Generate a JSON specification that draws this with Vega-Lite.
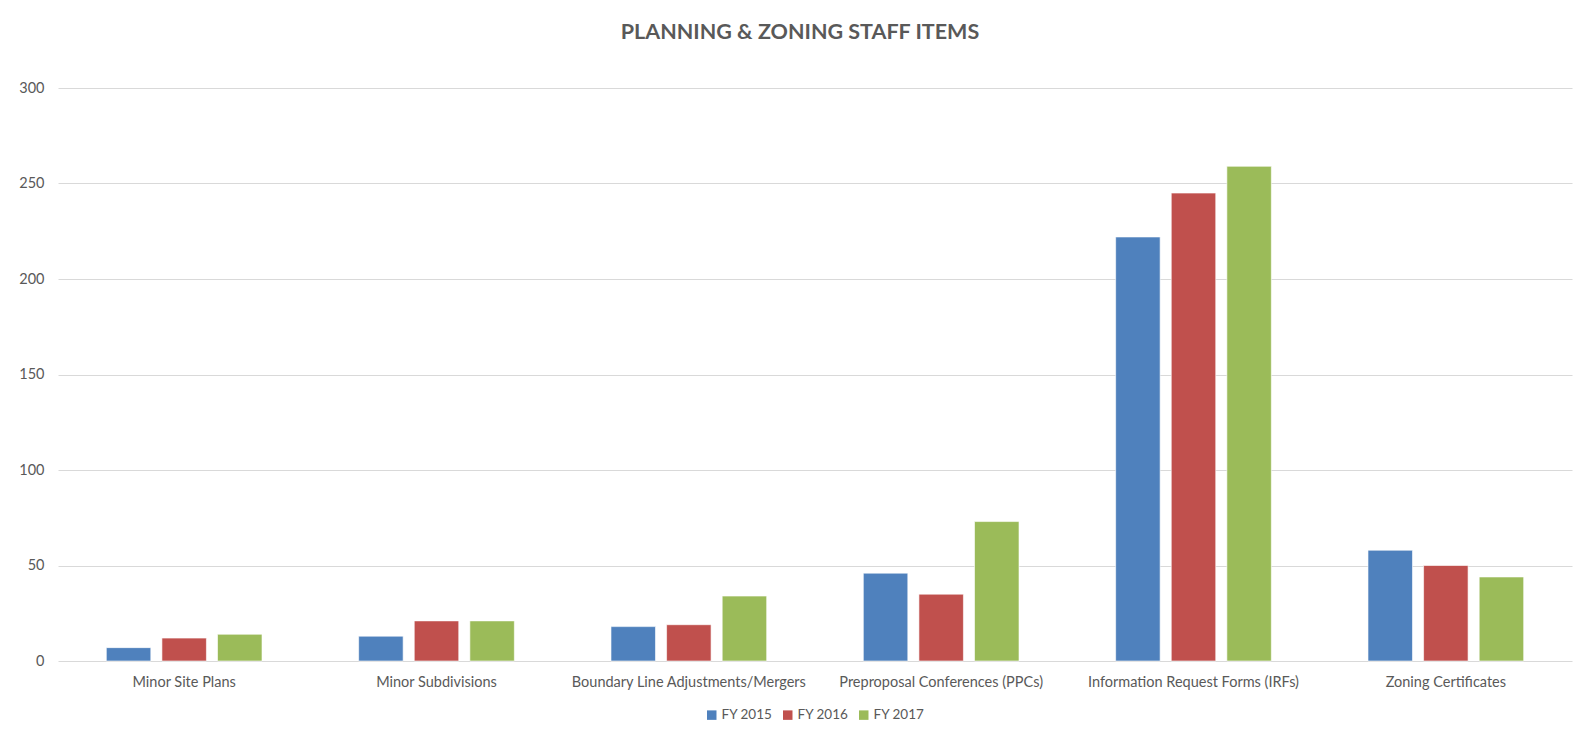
{
  "$schema": "https://vega.github.io/schema/vega-lite/v6.json",
  "autosize": "none",
  "width": 1514,
  "height": 573,
  "padding": {"left": 58, "top": 88, "right": 13, "bottom": 78},
  "background": "white",
  "title": {
    "text": "PLANNING & ZONING STAFF ITEMS",
    "font": "Lato",
    "fontSize": 21.5,
    "fontWeight": "bold",
    "color": "#595959",
    "anchor": "middle",
    "offset": 37,
    "dx": -15
  },
  "data": {
    "values": [
      {"category": "Minor Site Plans", "year": "FY 2015", "value": 7},
      {"category": "Minor Site Plans", "year": "FY 2016", "value": 12},
      {"category": "Minor Site Plans", "year": "FY 2017", "value": 14},
      {"category": "Minor Subdivisions", "year": "FY 2015", "value": 13},
      {"category": "Minor Subdivisions", "year": "FY 2016", "value": 21},
      {"category": "Minor Subdivisions", "year": "FY 2017", "value": 21},
      {"category": "Boundary Line Adjustments/Mergers", "year": "FY 2015", "value": 18},
      {"category": "Boundary Line Adjustments/Mergers", "year": "FY 2016", "value": 19},
      {"category": "Boundary Line Adjustments/Mergers", "year": "FY 2017", "value": 34},
      {"category": "Preproposal Conferences (PPCs)", "year": "FY 2015", "value": 46},
      {"category": "Preproposal Conferences (PPCs)", "year": "FY 2016", "value": 35},
      {"category": "Preproposal Conferences (PPCs)", "year": "FY 2017", "value": 73},
      {"category": "Information Request Forms (IRFs)", "year": "FY 2015", "value": 222},
      {"category": "Information Request Forms (IRFs)", "year": "FY 2016", "value": 245},
      {"category": "Information Request Forms (IRFs)", "year": "FY 2017", "value": 259},
      {"category": "Zoning Certificates", "year": "FY 2015", "value": 58},
      {"category": "Zoning Certificates", "year": "FY 2016", "value": 50},
      {"category": "Zoning Certificates", "year": "FY 2017", "value": 44}
    ]
  },
  "mark": {"type": "bar", "stroke": "white", "strokeWidth": 1, "strokeOpacity": 0.6},
  "encoding": {
    "x": {
      "field": "category",
      "type": "nominal",
      "sort": null,
      "title": null,
      "scale": {"paddingInner": 0.383, "paddingOuter": 0.1915},
      "axis": {
        "labelAngle": 0,
        "labelFont": "Lato",
        "labelFontSize": 14.5,
        "labelColor": "#595959",
        "labelPadding": 14,
        "labelLimit": 400,
        "ticks": false,
        "domain": false,
        "grid": false
      }
    },
    "xOffset": {
      "field": "year",
      "type": "nominal",
      "scale": {"paddingInner": 0.2, "paddingOuter": 0}
    },
    "y": {
      "field": "value",
      "type": "quantitative",
      "title": null,
      "scale": {"domain": [0, 300], "nice": false},
      "axis": {
        "values": [0, 50, 100, 150, 200, 250, 300],
        "labelFont": "Lato",
        "labelFontSize": 14.5,
        "labelColor": "#595959",
        "labelPadding": 14,
        "ticks": false,
        "domain": false,
        "grid": true,
        "gridColor": "#d9d9d9",
        "gridWidth": 1
      }
    },
    "color": {
      "field": "year",
      "type": "nominal",
      "scale": {"domain": ["FY 2015", "FY 2016", "FY 2017"], "range": ["#4F81BD", "#C0504D", "#9BBB59"]},
      "legend": {
        "title": null,
        "orient": "bottom",
        "direction": "horizontal",
        "symbolType": "square",
        "symbolSize": 90,
        "symbolStrokeWidth": 0,
        "labelFont": "Lato",
        "labelFontSize": 13.5,
        "labelColor": "#595959",
        "labelOffset": 3,
        "columnPadding": 8,
        "offset": 19
      }
    }
  },
  "config": {
    "view": {"stroke": null},
    "legend": {"layout": {"bottom": {"anchor": "middle"}}}
  }
}
